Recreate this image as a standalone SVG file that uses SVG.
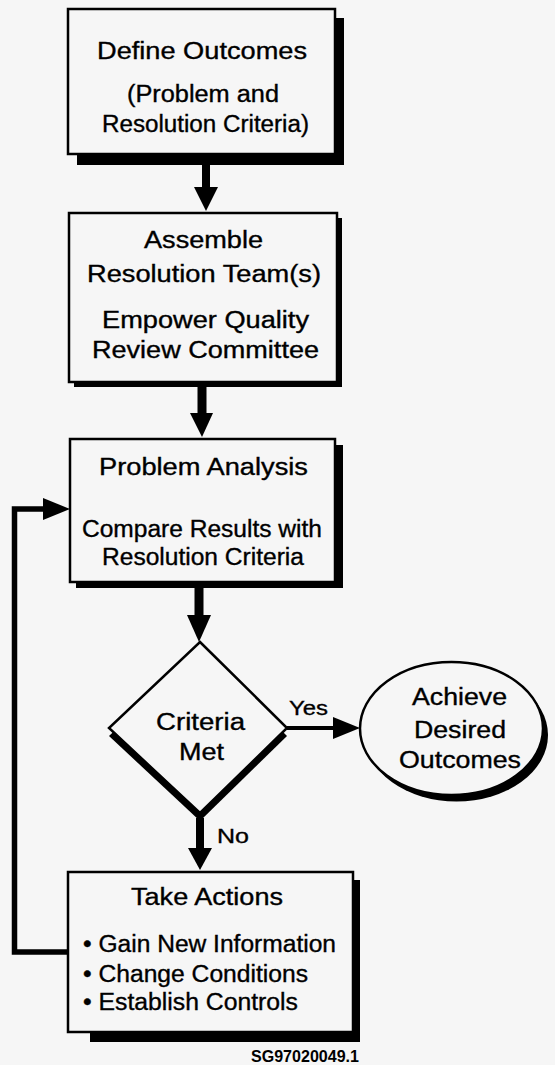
<svg xmlns="http://www.w3.org/2000/svg" width="555" height="1065" viewBox="0 0 555 1065">
  <style>
    .bg { fill: #f6f6f6; }
    .box { fill: #f6f6f6; stroke: #000; stroke-width: 2.5; }
    .shadow { fill: #000; }
    .t { font-family: "Liberation Sans", Arial, sans-serif; font-size: 23px; fill: #000; stroke: #000; stroke-width: 0.35; }
    .s { font-size: 21px; }
    .code { font-family: "Liberation Sans", Arial, sans-serif; font-size: 16px; font-weight: bold; fill: #000; }
    .line { fill: none; stroke: #000; }
    .head { fill: #000; }
  </style>

  <rect class="bg" x="0" y="0" width="555" height="1065"/>

  <!-- Define Outcomes -->
  <g id="define-outcomes">
    <rect class="shadow" x="77" y="18" width="267" height="147"/>
    <rect class="box" x="68" y="9" width="267" height="145"/>
    <text class="t" x="97" y="59" textLength="210" lengthAdjust="spacingAndGlyphs">Define Outcomes</text>
    <text class="t" x="127" y="102" textLength="152" lengthAdjust="spacingAndGlyphs">(Problem and</text>
    <text class="t" x="102" y="132" textLength="207" lengthAdjust="spacingAndGlyphs">Resolution Criteria)</text>
  </g>

  <!-- Assemble team -->
  <g id="assemble-team">
    <rect class="shadow" x="74" y="218" width="268" height="169"/>
    <rect class="box" x="69" y="213" width="268" height="169"/>
    <text class="t" x="144" y="248" textLength="119" lengthAdjust="spacingAndGlyphs">Assemble</text>
    <text class="t" x="87" y="282" textLength="234" lengthAdjust="spacingAndGlyphs">Resolution Team(s)</text>
    <text class="t" x="102" y="328" textLength="207" lengthAdjust="spacingAndGlyphs">Empower Quality</text>
    <text class="t" x="92" y="358" textLength="227" lengthAdjust="spacingAndGlyphs">Review Committee</text>
  </g>

  <!-- Problem analysis -->
  <g id="problem-analysis">
    <rect class="shadow" x="76" y="445" width="267" height="143"/>
    <rect class="box" x="70" y="439" width="265" height="143"/>
    <text class="t" x="99" y="475" textLength="209" lengthAdjust="spacingAndGlyphs">Problem Analysis</text>
    <text class="t" x="82" y="537" textLength="240" lengthAdjust="spacingAndGlyphs">Compare Results with</text>
    <text class="t" x="102" y="565" textLength="202" lengthAdjust="spacingAndGlyphs">Resolution Criteria</text>
  </g>

  <!-- Decision -->
  <g id="criteria-met">
    <polygon class="shadow" points="200,650 287,736 200,821 109,736"/>
    <polygon class="box" stroke-width="2" points="200,642 287,728 200,813 109,728"/>
    <text class="t" x="156" y="730" textLength="89" lengthAdjust="spacingAndGlyphs">Criteria</text>
    <text class="t" x="179" y="760" textLength="45" lengthAdjust="spacingAndGlyphs">Met</text>
  </g>

  <!-- Outcome -->
  <g id="desired-outcomes">
    <ellipse class="shadow" cx="456.5" cy="735" rx="91.5" ry="66.5"/>
    <ellipse class="box" stroke-width="2" cx="451.5" cy="728.5" rx="91.5" ry="66.5"/>
    <text class="t" x="412" y="705" textLength="95" lengthAdjust="spacingAndGlyphs">Achieve</text>
    <text class="t" x="414" y="738" textLength="92" lengthAdjust="spacingAndGlyphs">Desired</text>
    <text class="t" x="399" y="768" textLength="122" lengthAdjust="spacingAndGlyphs">Outcomes</text>
  </g>

  <!-- Take actions -->
  <g id="take-actions">
    <rect class="shadow" x="90" y="880" width="270" height="162"/>
    <rect class="box" x="68" y="872" width="285" height="160"/>
    <text class="t" x="131" y="905" textLength="152" lengthAdjust="spacingAndGlyphs">Take Actions</text>
    <text class="t" x="83" y="952" textLength="253" lengthAdjust="spacingAndGlyphs">• Gain New Information</text>
    <text class="t" x="83" y="982" textLength="225" lengthAdjust="spacingAndGlyphs">• Change Conditions</text>
    <text class="t" x="83" y="1010" textLength="215" lengthAdjust="spacingAndGlyphs">• Establish Controls</text>
  </g>

  <!-- Connectors -->
  <g id="connectors">
    <line class="line" stroke-width="8" x1="206" y1="165" x2="206" y2="188"/>
    <polygon class="head" points="194,187 218,187 206,211"/>

    <line class="line" stroke-width="9" x1="202" y1="387" x2="202" y2="414"/>
    <polygon class="head" points="190,413 213,413 202,437"/>

    <line class="line" stroke-width="9" x1="199" y1="588" x2="199" y2="616"/>
    <polygon class="head" points="187,615 211,615 199,642"/>

    <line class="line" stroke-width="8" x1="200" y1="818" x2="200" y2="849"/>
    <polygon class="head" points="188,848 212,848 200,870"/>

    <line class="line" stroke-width="4" x1="287" y1="728" x2="334" y2="728"/>
    <polygon class="head" points="333,717 360,728 333,739"/>

    <polyline class="line" stroke-width="5.5" stroke-linejoin="miter" points="68,952 14.5,952 14.5,509 44,509"/>
    <polygon class="head" points="43,498 70,509 43,520"/>

    <text class="t s" x="289" y="715" textLength="39" lengthAdjust="spacingAndGlyphs">Yes</text>
    <text class="t s" x="217" y="843" textLength="32" lengthAdjust="spacingAndGlyphs">No</text>
  </g>

  <text class="code" x="251" y="1062" textLength="108" lengthAdjust="spacingAndGlyphs">SG97020049.1</text>
</svg>
